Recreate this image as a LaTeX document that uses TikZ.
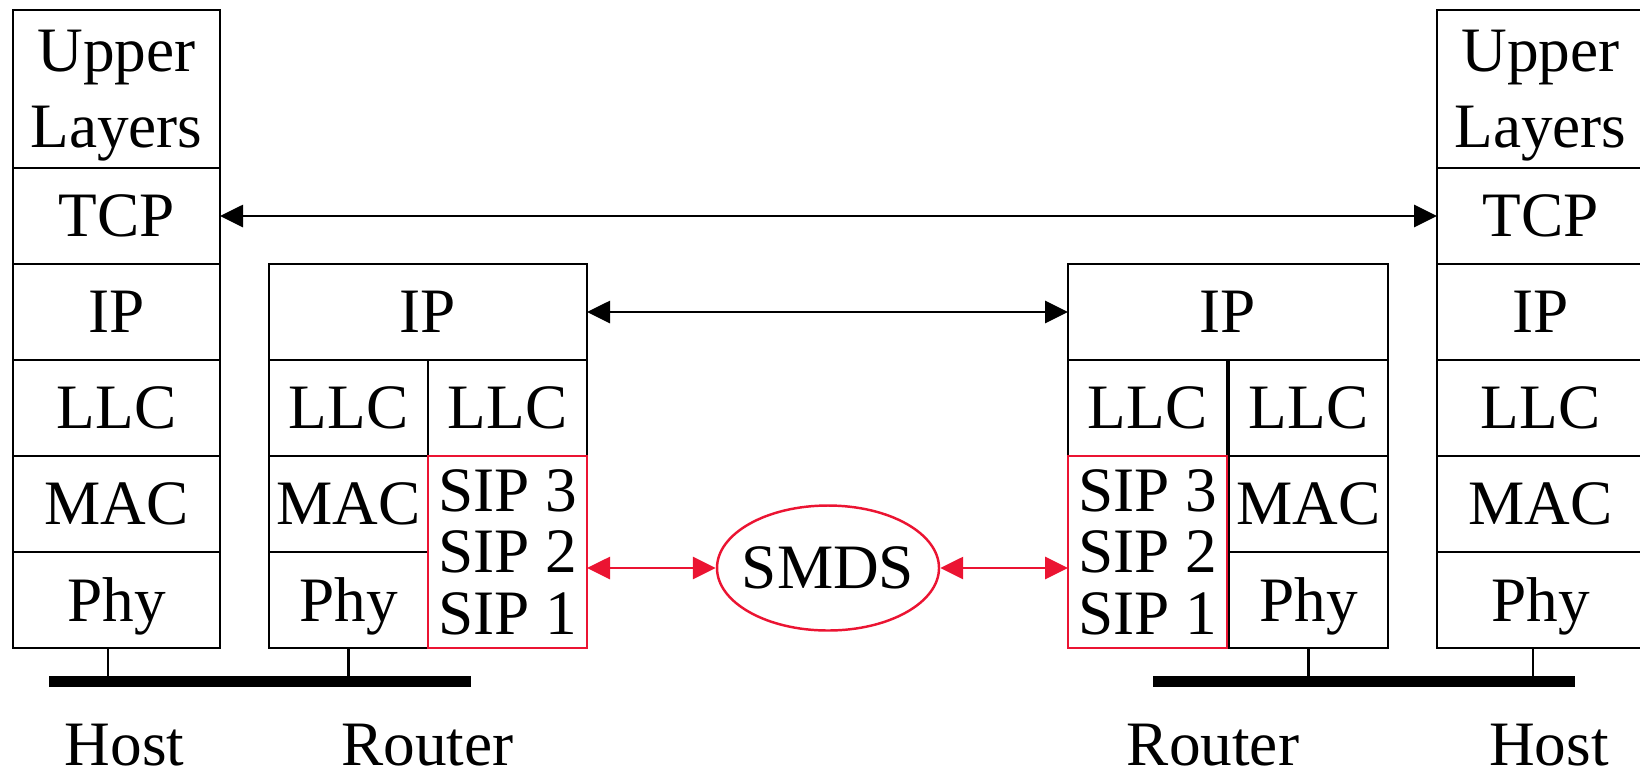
\documentclass[tikz,border=0pt]{standalone}
\usepackage{fontspec}
\setmainfont{Liberation Serif}
\usetikzlibrary{positioning,shapes.geometric,arrows.meta}
\definecolor{sipred}{RGB}{235,20,50}

\begin{document}
\begin{tikzpicture}[
  layer/.style={draw, line width=0.8pt, minimum width=2.07cm, minimum height=0.96cm, inner sep=0pt, outer sep=0pt, text depth=0pt, align=center, font=\fontsize{18}{21.5}\selectfont},
  half/.style={layer, minimum width=1.59cm},
  sipbox/.style={half, draw=sipred, line width=0.6pt, minimum height=1.92cm, font=\fontsize{18}{17.6}\selectfont},
  link/.style={{Triangle[length=2.3mm,width=2.2mm]}-{Triangle[length=2.3mm,width=2.2mm]}, line width=0.8pt},
  bus/.style={line width=1.1mm},
  stick/.style={line width=0.6pt},
  lbl/.style={anchor=base, inner sep=0pt, font=\fontsize{18}{21.5}\selectfont}]
\useasboundingbox (0,0) rectangle (16.4,-7.7); %page size

%left host
\node[layer, minimum height=1.58cm] (h1up) at (1.165,-0.89) {Upper\\Layers};
\node[layer, below=0pt of h1up] (h1tcp) {TCP};
\node[layer, below=0pt of h1tcp] (h1ip) {IP};
\node[layer, below=0pt of h1ip] (h1llc) {LLC};
\node[layer, below=0pt of h1llc] (h1mac) {MAC};
\node[layer, below=0pt of h1mac] (h1phy) {Phy};

%left router
\node[layer, minimum width=3.18cm] (r1ip) at (4.28,-3.12) {IP};
\node[half, anchor=north west] (r1llca) at (r1ip.south west) {LLC};
\node[half, anchor=north east] (r1llcb) at (r1ip.south east) {LLC};
\node[half, below=0pt of r1llca] (r1mac) {MAC};
\node[half, below=0pt of r1mac] (r1phy) {Phy};
\node[sipbox, below=0pt of r1llcb] (r1sip) {SIP 3\\SIP 2\\SIP 1};

%right router
\node[layer, minimum width=3.2cm] (r2ip) at (12.28,-3.12) {IP};
\node[half, anchor=north west] (r2llca) at (r2ip.south west) {LLC};
\node[half, anchor=north east] (r2llcb) at (r2ip.south east) {LLC};
\node[sipbox, below=0pt of r2llca] (r2sip) {SIP 3\\SIP 2\\SIP 1};
\node[half, below=0pt of r2llcb] (r2mac) {MAC};
\node[half, below=0pt of r2mac] (r2phy) {Phy};

%right host
\node[layer, minimum height=1.58cm] (h2up) at (15.405,-0.89) {Upper\\Layers};
\node[layer, below=0pt of h2up] (h2tcp) {TCP};
\node[layer, below=0pt of h2tcp] (h2ip) {IP};
\node[layer, below=0pt of h2ip] (h2llc) {LLC};
\node[layer, below=0pt of h2llc] (h2mac) {MAC};
\node[layer, below=0pt of h2mac] (h2phy) {Phy};

%the SMDS cloud
\node[ellipse, draw=sipred, line width=0.7pt, minimum width=2.22cm, minimum height=1.25cm, inner xsep=-1mm, inner ysep=0pt, font=\fontsize{18}{21.5}\selectfont] (smds) at (8.28,-5.68) {SMDS};

%peer arrows
\draw[link] (h1tcp.east) -- (h2tcp.west);
\draw[link] (r1ip.east) -- (r2ip.west);
\draw[link, sipred] (smds.west -| r1sip.east) -- (smds.west);
\draw[link, sipred] (smds.east) -- (smds.east -| r2sip.west);

%the two LANs
\coordinate (bus1w) at (0.49,-6.815);
\coordinate (bus1e) at (4.71,-6.815);
\coordinate (bus2w) at (11.53,-6.815);
\coordinate (bus2e) at (15.75,-6.815);
\draw[bus] (bus1w) -- (bus1e);
\draw[bus] (bus2w) -- (bus2e);
\draw[stick] ([xshift=-0.85mm]h1phy.south) -- ([xshift=-0.85mm]h1phy.south |- bus1w);
\draw[stick] (r1phy.south) -- (r1phy.south |- bus1w);
\draw[stick] (r2phy.south) -- (r2phy.south |- bus2w);
\draw[stick] ([xshift=-0.75mm]h2phy.south) -- ([xshift=-0.75mm]h2phy.south |- bus2w);

%labels
\node[lbl] (h1name) at (1.245,-7.65) {Host};
\node[lbl] (r1name) at (4.275,-7.65) {Router};
\node[lbl] (r2name) at (12.13,-7.65) {Router};
\node[lbl] (h2name) at (15.49,-7.65) {Host};
\end{tikzpicture}
\end{document}
